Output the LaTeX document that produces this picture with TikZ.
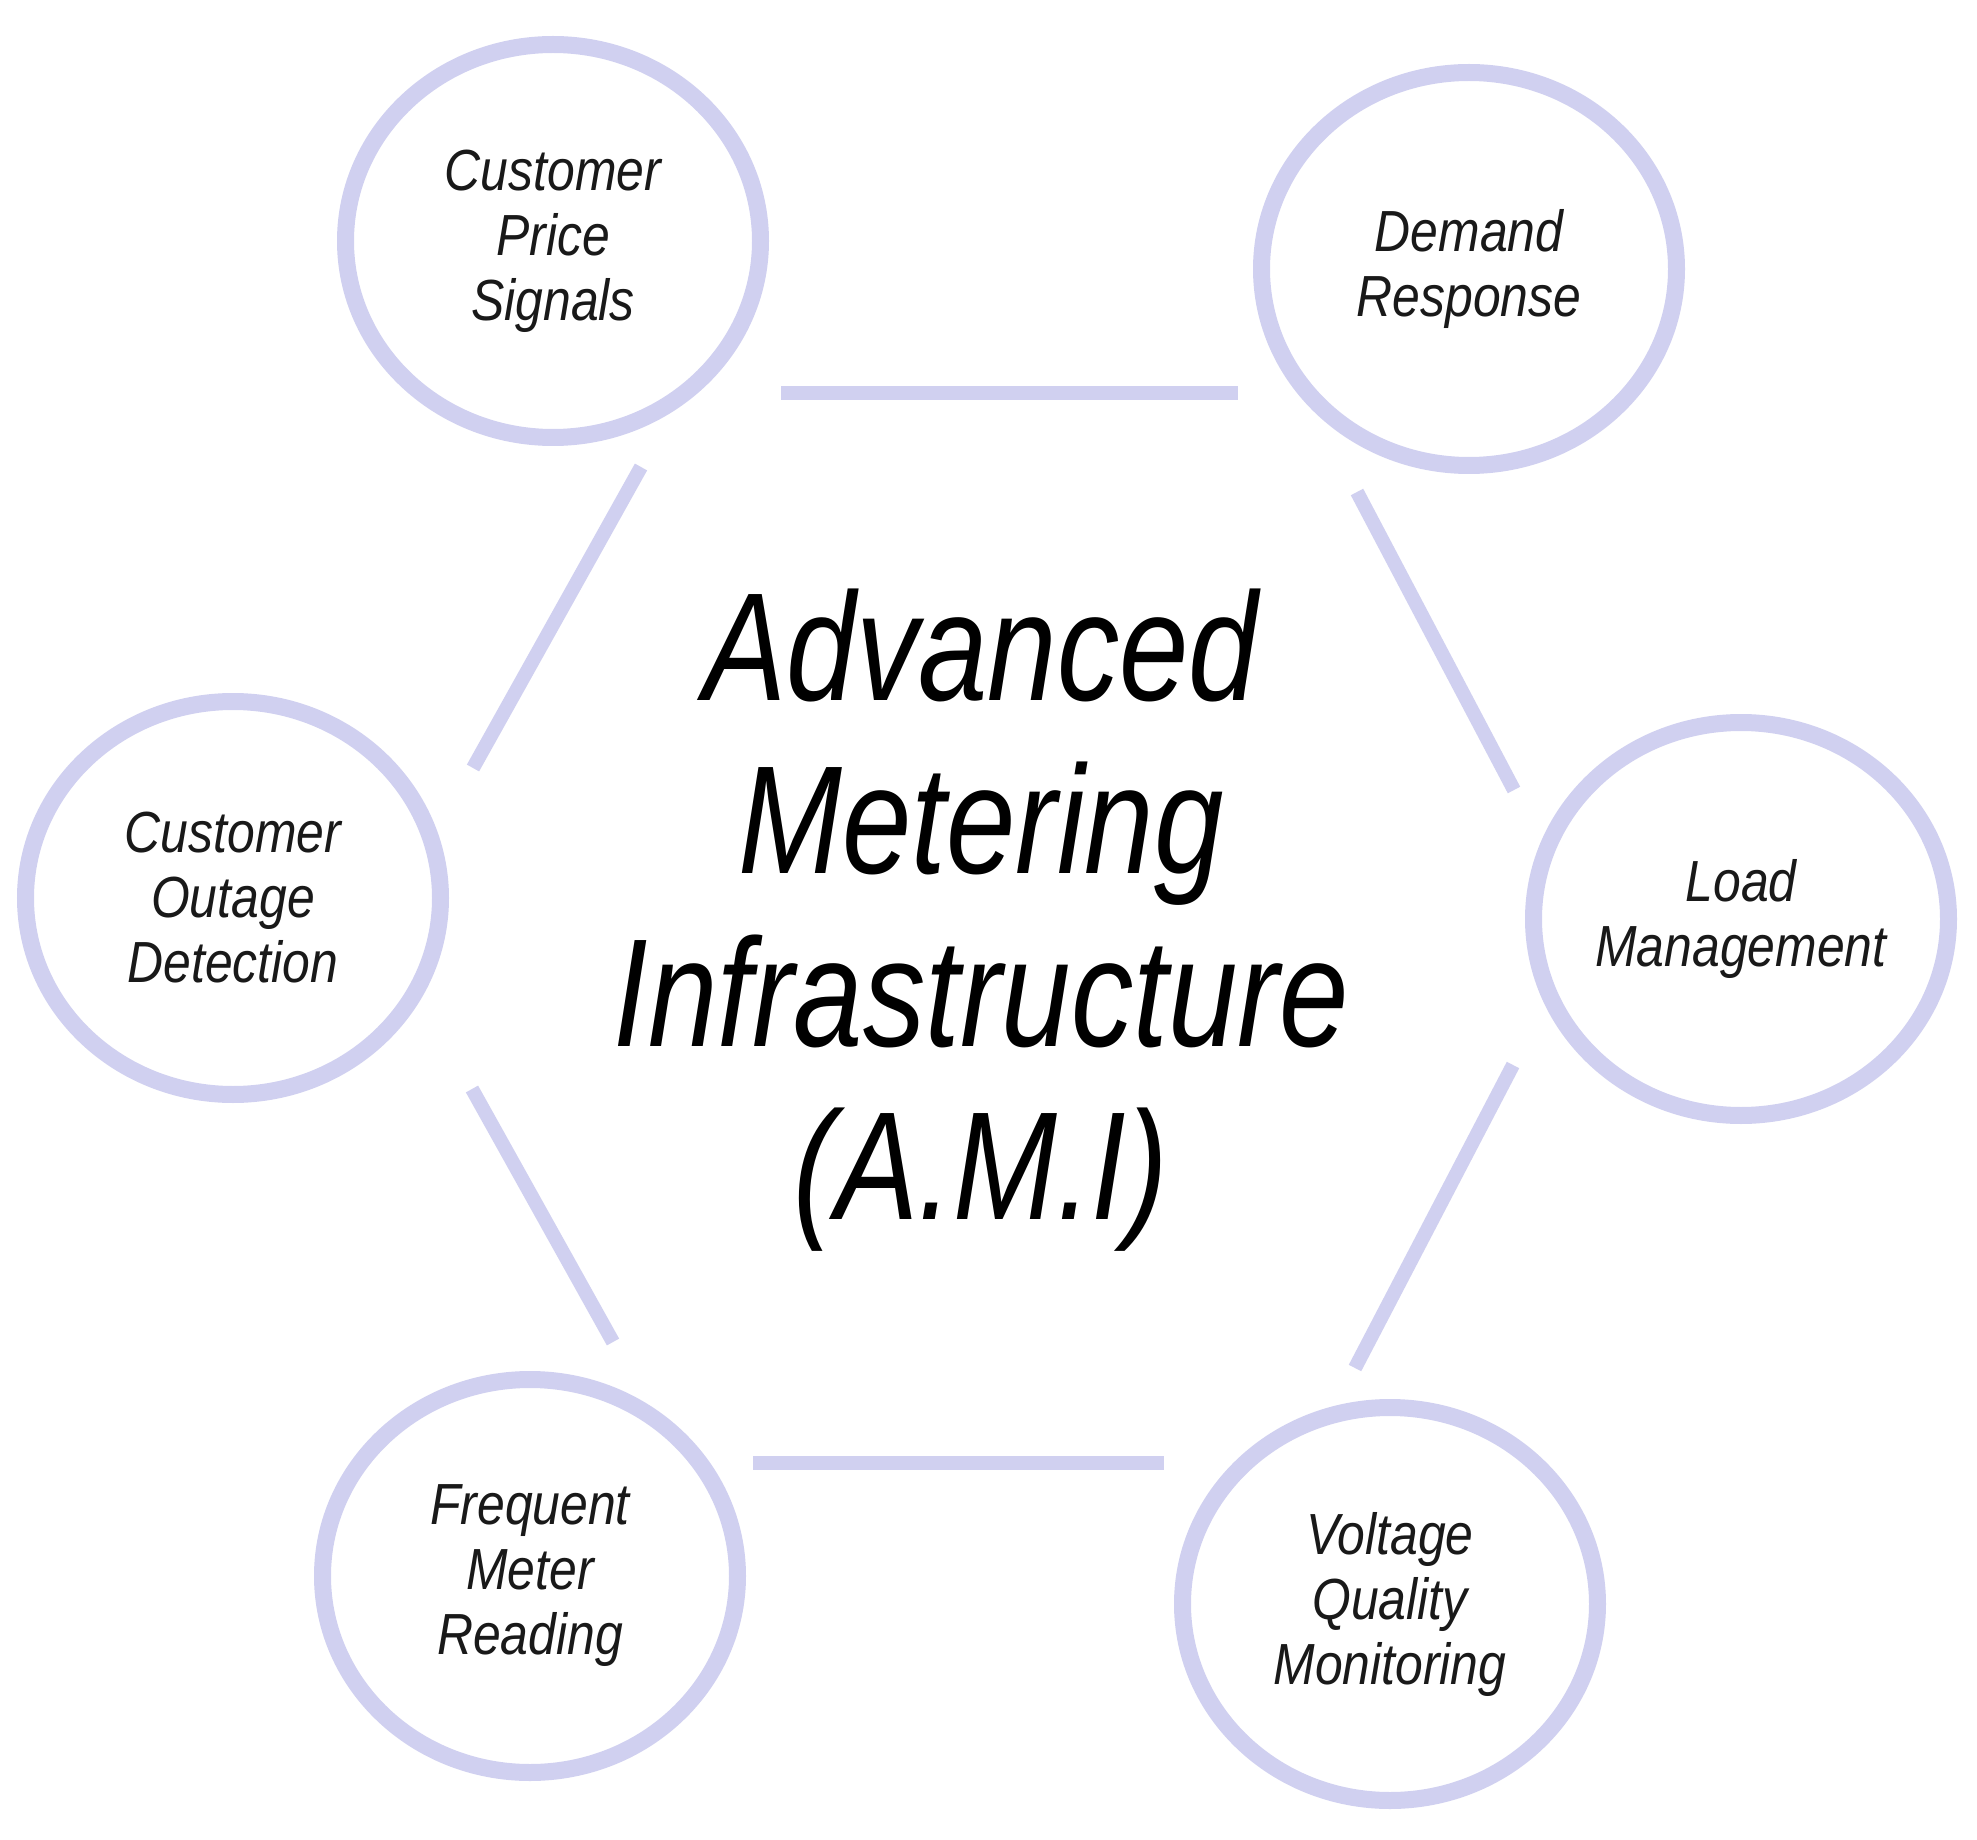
\documentclass[tikz,border=0pt]{standalone}
\usepackage{fontspec}
\usetikzlibrary{shapes.geometric}
\newfontfamily\smallfont[FakeStretch=0.86]{Liberation Sans}
\newfontfamily\bigfont[FakeStretch=0.81]{Liberation Sans}
\definecolor{ring}{RGB}{208,208,240}
\definecolor{txt}{RGB}{25,25,25}
\begin{document}
\begin{tikzpicture}[x=0.5pt,y=-0.5pt,
  item/.style={ellipse, draw=ring, line width=8.5pt, minimum width=207.5pt, minimum height=196.5pt, inner sep=0pt, align=center, text=txt, font=\smallfont\itshape\fontsize{29}{32.5}\selectfont},
  link/.style={draw=ring, line width=7pt},
  title/.style={align=center, text=black, inner sep=0pt, font=\bigfont\itshape\fontsize{77}{86.5}\selectfont}
]
\useasboundingbox[fill=white] (0,0) rectangle (1977,1840);

\node[item] (cps) at (553,241) {Customer\\Price\\Signals};
\node[item] (dr)  at (1469,269) {Demand\\Response};
\node[item] (cod) at (233,898) {Customer\\Outage\\Detection};
\node[item] (lm)  at (1741,919) {Load\\Management};
\node[item] (fmr) at (530,1576) {Frequent\\Meter\\Reading};
\node[item] (vqm) at (1390,1604) {Voltage\\Quality\\Monitoring};

\node[title] (ami) at (981,920) {Advanced\\Metering\\Infrastructure\\(A.M.I)};

\coordinate (t1) at (781,393);   \coordinate (t2) at (1238,393);
\coordinate (ul1) at (641,467);  \coordinate (ul2) at (473,768);
\coordinate (ur1) at (1357,492); \coordinate (ur2) at (1514,790);
\coordinate (ll1) at (472,1089); \coordinate (ll2) at (613,1342);
\coordinate (lr1) at (1513,1065); \coordinate (lr2) at (1355,1368);
\coordinate (b1) at (753,1463);  \coordinate (b2) at (1164,1463);

\draw[link] (t1) -- (t2);
\draw[link] (ul1) -- (ul2);
\draw[link] (ur1) -- (ur2);
\draw[link] (ll1) -- (ll2);
\draw[link] (lr1) -- (lr2);
\draw[link] (b1) -- (b2);
\end{tikzpicture}
\end{document}
